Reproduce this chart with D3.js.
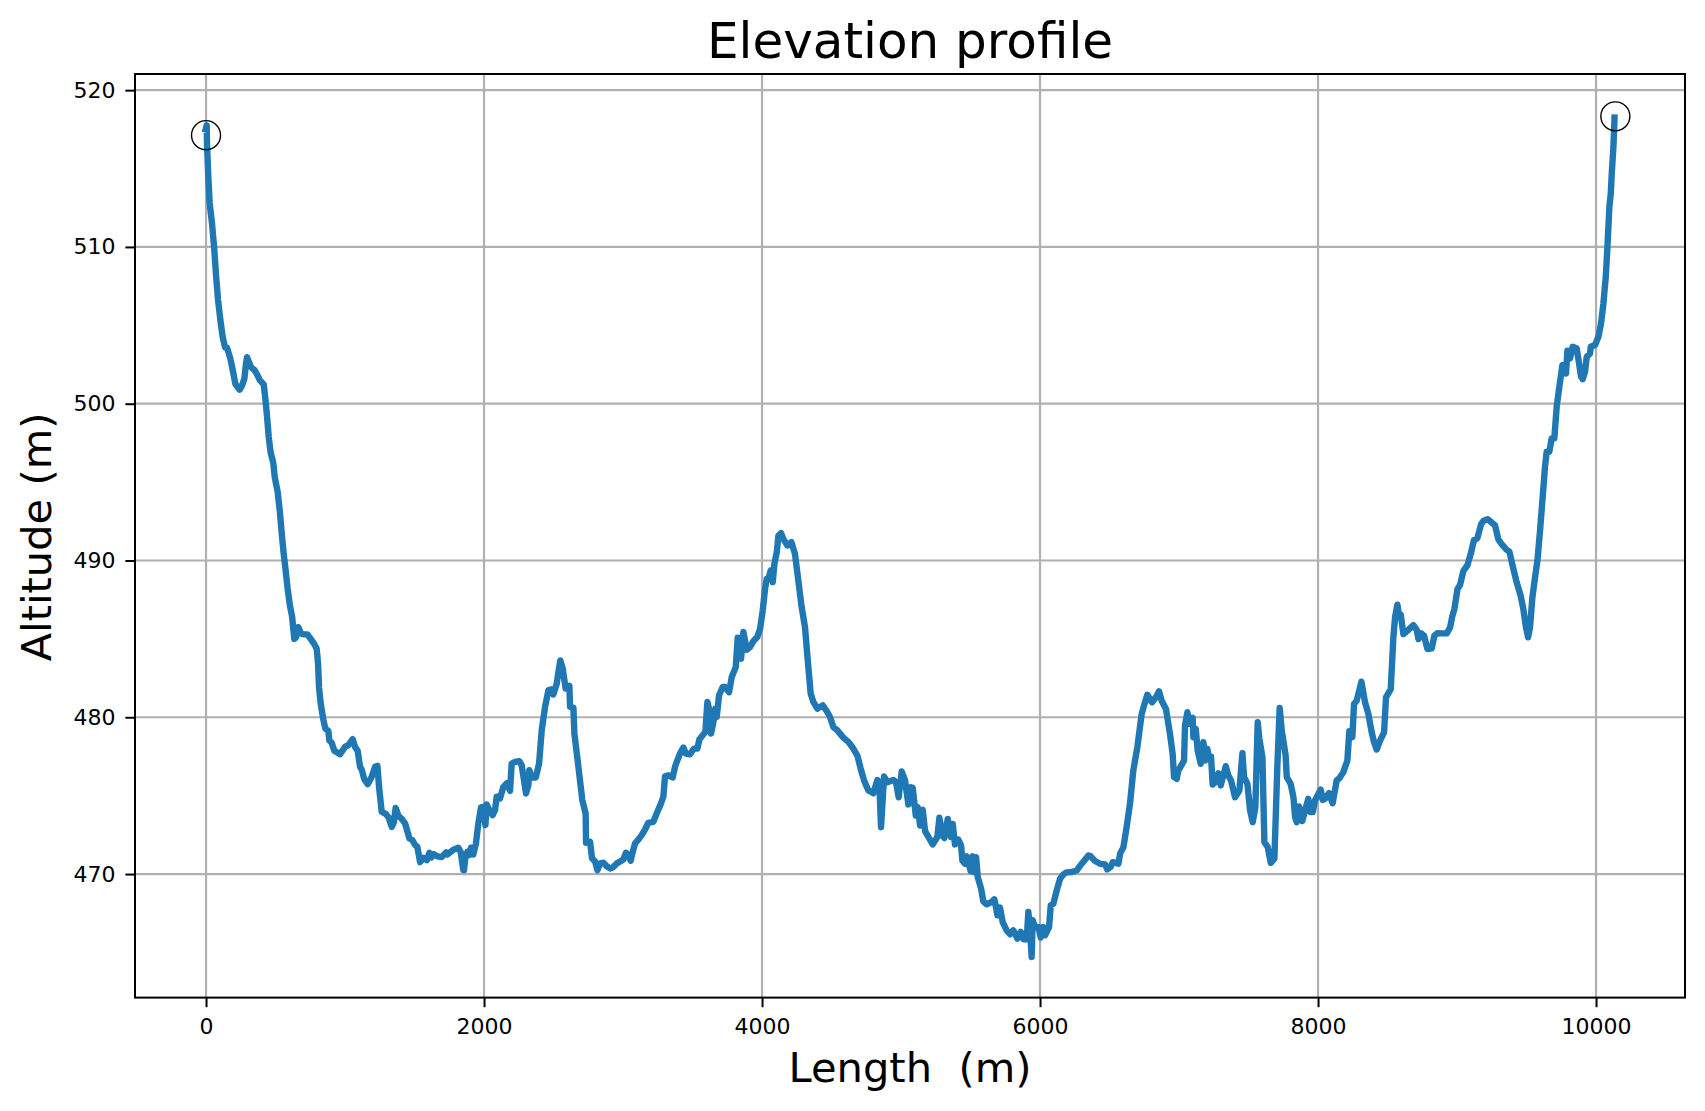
<!DOCTYPE html>
<html>
<head>
<meta charset="utf-8">
<script src="https://cdn.jsdelivr.net/npm/d3@7"></script>
<style>
html,body{margin:0;padding:0;background:#fff}
svg{display:block}
text{font-family:"DejaVu Sans",sans-serif;fill:#000}
</style>
</head>
<body>
<svg id="chart" width="1705" height="1111"></svg>
<script>
const titleText = "Elevation profile";
const xLabel = "Length  (m)";
const yLabel = "Altitude (m)";
const xTicks = [0, 2000, 4000, 6000, 8000, 10000];
const yTicks = [470, 480, 490, 500, 510, 520];
const endpointLengths = [0, 10139];
const endpointAltitudes = [517.13, 518.33];

const lengths = [
-8,5,7,17,26,43,58,72,86,103,120,137,151,175,192,211,228,242,259,276,288,295,307,324,348,367,388,415,427,439,451,465,484,494,516,532,547,559,571,587,604,619,635,
647,664,684,705,729,753,780,796,806,813,825,844,858,880,887,904,923,964,1000,1024,1055,1072,1091,1108,1120,1139,1163,1192,1216,1233,1247,1264,1295,1314,1336,1352,1364,1384,1408,1432,1463,1484,1504,1520,1540,1564,1588,1607,1621,1638,1660,1695,1727,1736,1779,1815,1832,1851,1856,1866,1880,1892,1906,1923,1942,1959,1978,1995,2010,2019,2038,2062,2079,2091,2105,2115,2139,2163,2187,2199,2223,2254,2271,2302,2319,2326,2343,2372,2396,2415,2439,2463,2480,2499,2523,2537,2549,2566,2587,2614,2619,2643,
2650,2679,2707,2731,2734,2763,2777,2799,2816,2835,2859,2883,2907,2926,2955,2979,3002,3021,3038,3055,3067,3086,3110,3134,3158,3182,3218,3242,3271,3290,3302,3326,3357,3374,3386,3410,3434,3453,3482,3501,3511,3535,3549,3573,3592,3607,3621,3633,3655,3664,3674,3691,3717,3734,3763,3782,3811,3825,3837,3849,3866,3890,3914,3938,3966,3986,4005,4022,4034,4050,4062,4077,4089,4106,4118,4137,4153,4182,4211,4237,4261,4285,4309,4329,4350,4369,4398,4436,4465,4489,4513,4537,4585,4621,4652,4686,4710,
4734,4765,4801,4830,4844,4856,4878,4902,4945,4964,4983,5005,5029,5053,5070,5084,5106,5120,5137,5156,5173,5197,5228,5261,5276,5297,5312,5336,5360,5372,5388,5412,5432,5441,5460,5472,5501,5516,5525,5540,5552,5576,5592,5616,5652,5671,5683,5693,5712,5731,5760,5784,5808,5837,5861,5880,5904,5916,5928,5940,5947,5964,5988,6005,6024,6036,6065,6077,6096,6120,6144,6168,6192,6228,6264,6300,6348,6365,6396,6432,6468,6484,6508,6523,6564,6576,6600,6623,6647,
6671,6700,6731,6748,6772,6806,6834,6856,6875,6906,6935,6954,6964,6983,6995,7036,7043,7060,7074,7098,7103,7120,7134,7156,7175,7189,7204,7213,7230,7242,7261,7283,7300,7336,7355,7374,7403,7434,7456,7468,7492,7511,7530,7549,7566,7578,7600,7614,7638,7660,7686,7707,7724,7739,7767,7775,7803,7823,7835,7847,7863,7887,7906,7930,7947,7962,7978,8019,8034,8050,8079,8105,8134,8153,8182,8211,8225,8247,8259,8278,8312,8338,8362,8386,8403,8422,8446,8475,8489,8523,8542,8554,8571,8583,8595,
8614,8638,8686,8710,8722,8741,8763,8787,8818,8837,8859,8897,8926,8950,8967,8981,9003,9022,9046,9075,9098,9122,9146,9173,9190,9221,9249,9273,9297,9321,9353,9377,9400,9429,9458,9477,9496,9511,9525,9542,9561,9578,9597,9621,
9633,9645,9664,9681,9700,9717,9736,9758,9772,9784,9794,9813,9832,9861,9878,9892,9904,9921,9933,9957,9962,9993,10017,10036,10053,10070,10082,10096,10106,10113,10125,10134
];
const altitudes = [
517.3,517.76,516.55,514.35,512.8,511.5,510,508.2,506.66,505.34,504.24,503.58,503.58,502.88,502.15,501.27,501.05,500.9,501.16,501.6,502.6,502.97,502.7,502.33,502.15,501.87,501.49,501.23,500.29,499.19,497.87,496.88,496.22,495.34,494.35,493.03,491.5,490.4,489.5,488.2,487.1,486.44,485,
485.1,485.75,485.33,485.29,485.29,485,484.65,484.37,483.4,481.9,480.87,479.85,479.28,479.13,478.53,478.37,477.86,477.64,478.11,478.22,478.6,478.11,477.86,476.84,476.67,476.03,475.73,476.2,476.84,476.9,475.35,473.97,473.82,473.61,473.01,473.33,474.22,473.72,473.52,473.23,472.27,472.17,471.85,471.74,470.76,471.04,470.89,471.36,471.06,471.27,471.15,471.08,471.38,471.25,471.55,471.68,471.42,470.25,470.25,471.1,471.42,471.2,471.68,471.25,471.95,473.23,474.25,474.29,473.12,474.44,474.08,473.76,474.08,474.93,474.93,474.82,475.56,475.78,475.31,477.05,477.15,477.2,476.94,475.14,475.67,476.62,476.16,476.16,477.05,479.17,480.66,481.72,481.78,481.46,482.14,482.99,483.63,483.1,481.83,482,480.66,480.62,
478.96,476.84,474.71,473.86,472,472.06,471,470.8,470.25,470.68,470.72,470.5,470.36,470.42,470.68,470.8,470.93,471.36,471.2,470.85,471.32,471.95,472.2,472.48,472.84,473.27,473.33,473.86,474.46,474.93,476.24,476.3,476.16,476.84,477.15,477.68,478.07,477.68,477.64,477.9,478,478,478.58,478.85,479.07,480.98,480.45,478.96,479.92,480.55,480.02,481.4,481.93,481.93,481.6,482.57,483.2,485.07,483.74,483.74,485.44,484.31,484.48,484.86,485.12,485.65,486.82,488.2,488.83,488.94,489.36,488.62,489.79,490.53,491.59,491.74,491.38,490.96,491.17,490.42,488.73,487.03,485.75,483.63,481.51,480.98,480.55,480.76,480.4,480.02,479.38,479.21,478.7,478.43,478.07,477.56,476.7,
475.97,475.33,475.16,476,475.75,472.99,476.22,475.86,476,475.86,474.9,476.54,475.97,474.44,475.54,475.5,473.74,474.27,473.1,474.1,472.74,472.36,471.89,472.36,473.59,472.46,472.3,473.52,472.36,473.2,471.89,472.19,471.83,470.87,470.66,471.13,470.19,471.13,470.13,471.08,469.8,469.07,468.26,468.07,468.22,468.39,467.9,467.37,467.86,466.94,466.41,466.16,466.41,465.88,466.31,465.84,465.84,467.58,466.41,464.71,467.05,466.62,466.62,465.95,466.62,466.09,466.62,468,468.11,468.96,469.7,469.98,470.11,470.13,470.23,470.66,471.19,471.13,470.83,470.66,470.62,470.3,470.45,470.76,470.66,471.3,471.72,473,474.48,
476.6,478.09,480.2,480.74,481.44,480.96,481.27,481.66,481.06,480.53,478.94,477.66,476.18,476.07,476.6,477.24,479.47,480.32,479.58,479.96,478.73,479.26,477.88,477.03,478.41,477.24,477.98,477.5,477.5,475.71,475.86,476.43,475.65,476.88,476.28,475.97,474.9,475.33,477.71,476.18,475.75,474.06,473.31,474.27,479.68,478.62,477.45,472.04,471.72,470.72,470.98,476.82,480.59,479.15,477.56,476.18,475.75,474.9,473.63,473.31,474.31,473.38,474.06,474.8,473.95,473.95,474.69,475.39,474.73,474.8,475.16,474.52,475.97,476.11,476.5,477.24,479.11,478.73,480.85,481.06,482.27,480.96,480.21,479.04,478.41,477.94,478.51,479.04,481.27,481.8,485.1,486.37,487.18,486.5,486.54,
485.3,485.48,485.88,485.58,484.99,485.35,485.2,484.35,484.4,485.2,485.37,485.35,485.35,485.73,486.48,486.9,488.17,488.45,489.34,489.7,490.4,491.3,491.42,492.31,492.53,492.63,492.42,492.25,491.36,491.04,490.72,490.55,489.66,488.6,487.75,486.9,485.73,485.1,485.73,487.64,488.92,489.98,491.89,494.6,
495.99,496.94,496.94,497.79,497.79,499.81,501.08,502.46,502.04,501.93,503.38,502.89,503.63,503.52,502.57,501.72,501.57,502.04,502.99,503.2,503.63,503.74,504.27,505.12,506.39,508.09,510,512.55,513.4,514.67,516.37,518.45
];

const plot = {left:135, right:1685, top:74, bottom:997.6};
const x = d3.scaleLinear().domain([-511, 10640]).range([plot.left, plot.right]);
const y = d3.scaleLinear().domain([462.12, 521.03]).range([plot.bottom, plot.top]);

const svg = d3.select("#chart");

// grid
svg.append("g").selectAll("line").data(xTicks).join("line")
  .attr("x1", d=>x(d)).attr("x2", d=>x(d)).attr("y1", plot.top).attr("y2", plot.bottom)
  .attr("stroke","#b0b0b0").attr("stroke-width",2.2);
svg.append("g").selectAll("line").data(yTicks).join("line")
  .attr("y1", d=>y(d)).attr("y2", d=>y(d)).attr("x1", plot.left).attr("x2", plot.right)
  .attr("stroke","#b0b0b0").attr("stroke-width",2.2);

// profile line
const line = d3.line().x((d,i)=>x(lengths[i])).y((d,i)=>y(altitudes[i]));
svg.append("path").datum(altitudes)
  .attr("d", line).attr("fill","none").attr("stroke","#1f77b4")
  .attr("stroke-width",6.4).attr("stroke-linejoin","round").attr("stroke-linecap","butt");

// endpoint circles
svg.append("g").selectAll("circle").data(endpointLengths).join("circle")
  .attr("cx", d=>x(d)).attr("cy", (d,i)=>y(endpointAltitudes[i])).attr("r",14.5)
  .attr("fill","none").attr("stroke","#000").attr("stroke-width",1.4);

// axes
const xAxis = d3.axisBottom(x).tickValues(xTicks).tickFormat(d3.format("d")).tickSize(9.6).tickSizeOuter(0).tickPadding(11);
const yAxis = d3.axisLeft(y).tickValues(yTicks).tickFormat(d3.format("d")).tickSize(9.6).tickSizeOuter(0).tickPadding(10);
const gx = svg.append("g").attr("transform",`translate(0,${plot.bottom})`).call(xAxis);
const gy = svg.append("g").attr("transform",`translate(${plot.left},0)`).call(yAxis);
[gx,gy].forEach(g=>{
  g.select(".domain").remove();
  g.selectAll("line").attr("stroke","#000").attr("stroke-width",2);
  g.selectAll("text").attr("font-size",22).attr("font-family","DejaVu Sans");
});

// frame
svg.append("rect").attr("x",plot.left).attr("y",plot.top)
  .attr("width",plot.right-plot.left).attr("height",plot.bottom-plot.top)
  .attr("fill","none").attr("stroke","#000").attr("stroke-width",2);

// text
svg.append("text").attr("x",(plot.left+plot.right)/2).attr("y",58).attr("text-anchor","middle")
  .attr("font-size",50).text(titleText);
svg.append("text").attr("x",(plot.left+plot.right)/2).attr("y",1082).attr("text-anchor","middle")
  .attr("font-size",41.6).attr("xml:space","preserve").style("white-space","pre").text(xLabel);
svg.append("text").attr("transform","translate(51,537) rotate(-90)").attr("text-anchor","middle")
  .attr("font-size",41.6).text(yLabel);
</script>
</body>
</html>
